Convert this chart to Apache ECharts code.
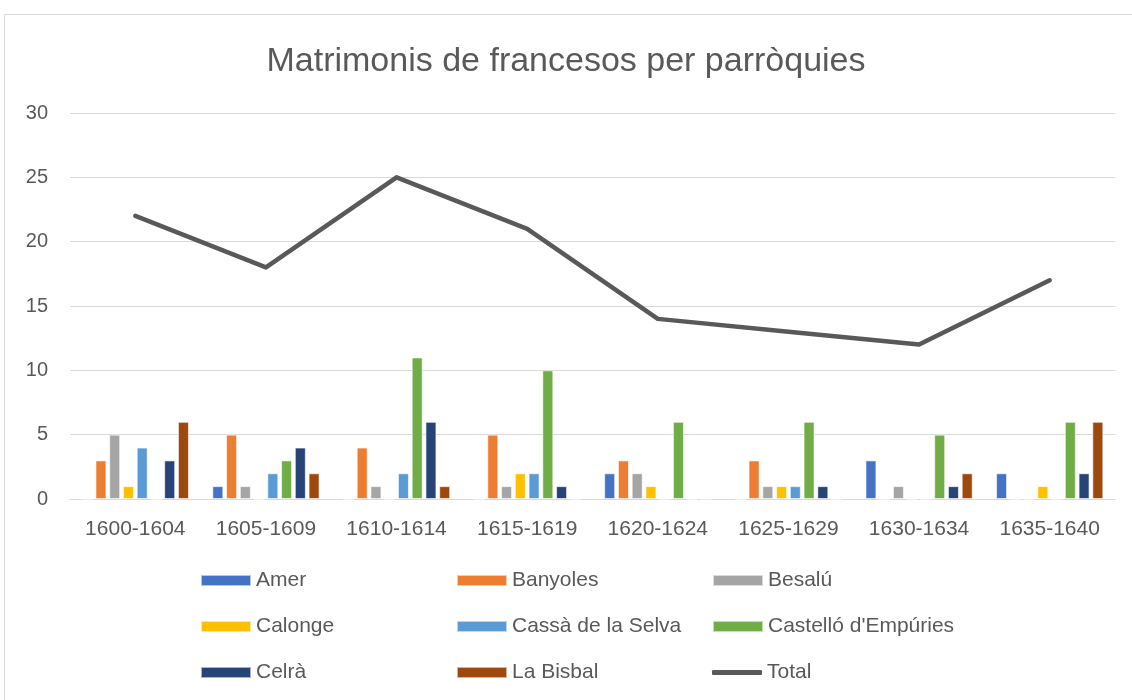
<!DOCTYPE html>
<html lang="ca">
  <head>
    <meta charset="UTF-8" />
    <title>Matrimonis de francesos per parròquies</title>
    <script src="https://cdn.jsdelivr.net/npm/echarts@6/dist/echarts.min.js"></script>
    <style>
      body { margin: 0; background: #fff; }
    </style>
  </head>
  <body>
    <div id="main" style="width: 1132px; height: 700px"></div>
    <script type="text/javascript">
      // periods on the x axis
      let periods = ["1600-1604", "1605-1609", "1610-1614", "1615-1619", "1620-1624", "1625-1629", "1630-1634", "1635-1640"]

      // marriages per parish, one value per period
      let amer = [0, 1, 0, 0, 2, 0, 3, 2]
      let banyoles = [3, 5, 4, 5, 3, 3, 0, 0]
      let besalu = [5, 1, 1, 1, 2, 1, 1, 0]
      let calonge = [1, 0, 0, 2, 1, 1, 0, 1]
      let cassa = [4, 2, 2, 2, 0, 1, 0, 0]
      let castello = [0, 3, 11, 10, 6, 6, 5, 6]
      let celra = [3, 4, 6, 1, 0, 1, 1, 2]
      let bisbal = [6, 2, 1, 0, 0, 0, 2, 6]
      let total = [22, 18, 25, 21, 14, 13, 12, 17]

      let yTicks = [0, 5, 10, 15, 20, 25, 30]

      let font = "Liberation Sans"
      let textColor = "#595959"

      function bar(name, data, color) {
        return {
          name: name,
          type: "bar",
          data: data,
          barWidth: 11,
          barGap: "25%",
          itemStyle: { color: color, borderColor: "rgba(255,255,255,0.6)", borderWidth: 1 },
        }
      }

      function legendCol(left, top, names, icon, h) {
        return {
          left: left,
          top: top,
          orient: "vertical",
          icon: icon,
          itemWidth: 50,
          itemHeight: h,
          itemGap: 25,
          data: names,
          textStyle: { color: textColor, fontSize: 21, fontFamily: font },
        }
      }

      let options = {
        animation: false,
        title: {
          text: "Matrimonis de francesos per parròquies",
          left: "center",
          top: 40,
          textStyle: { color: textColor, fontSize: 34, fontWeight: "normal", fontFamily: font },
        },
        graphic: [
          {
            type: "rect",
            shape: { x: 4.5, y: 14.5, width: 1140, height: 700 },
            style: { fill: "none", stroke: "#d9d9d9", lineWidth: 1 },
            silent: true,
          },
        ],
        grid: { left: 70, right: 17, top: 113, bottom: 201 },
        legend: [
          legendCol(195, 565, ["Amer", "Calonge", "Celrà"], "rect", 11),
          legendCol(451, 565, ["Banyoles", "Cassà de la Selva", "La Bisbal"], "rect", 11),
          legendCol(707, 565, ["Besalú", "Castelló d'Empúries"], "rect", 11),
          legendCol(707, 657, ["Total"], "roundRect", 5),
        ],
        xAxis: {
          type: "category",
          data: periods,
          axisLine: { lineStyle: { color: "#d9d9d9", width: 1 } },
          axisTick: { show: false },
          axisLabel: { color: textColor, fontSize: 21, fontFamily: font, margin: 20 },
        },
        yAxis: {
          type: "value",
          min: yTicks[0],
          max: yTicks[yTicks.length - 1],
          interval: 5,
          axisLine: { show: false },
          axisTick: { show: false },
          axisLabel: { color: textColor, fontSize: 20, fontFamily: font, margin: 22 },
          splitLine: { lineStyle: { color: "#d9d9d9", width: 1 } },
        },
        series: [
          bar("Amer", amer, "#4472c4"),
          bar("Banyoles", banyoles, "#ed7d31"),
          bar("Besalú", besalu, "#a5a5a5"),
          bar("Calonge", calonge, "#ffc000"),
          bar("Cassà de la Selva", cassa, "#5b9bd5"),
          bar("Castelló d'Empúries", castello, "#70ad47"),
          bar("Celrà", celra, "#264478"),
          bar("La Bisbal", bisbal, "#9e480e"),
          {
            name: "Total",
            type: "line",
            data: total,
            symbol: "none",
            lineStyle: { color: "#595959", width: 4.5, cap: "round", join: "round" },
            itemStyle: { color: "#595959" },
          },
        ],
      }

      let myChart = echarts.init(document.getElementById("main"))
      myChart.setOption(options)
    </script>
  </body>
</html>
